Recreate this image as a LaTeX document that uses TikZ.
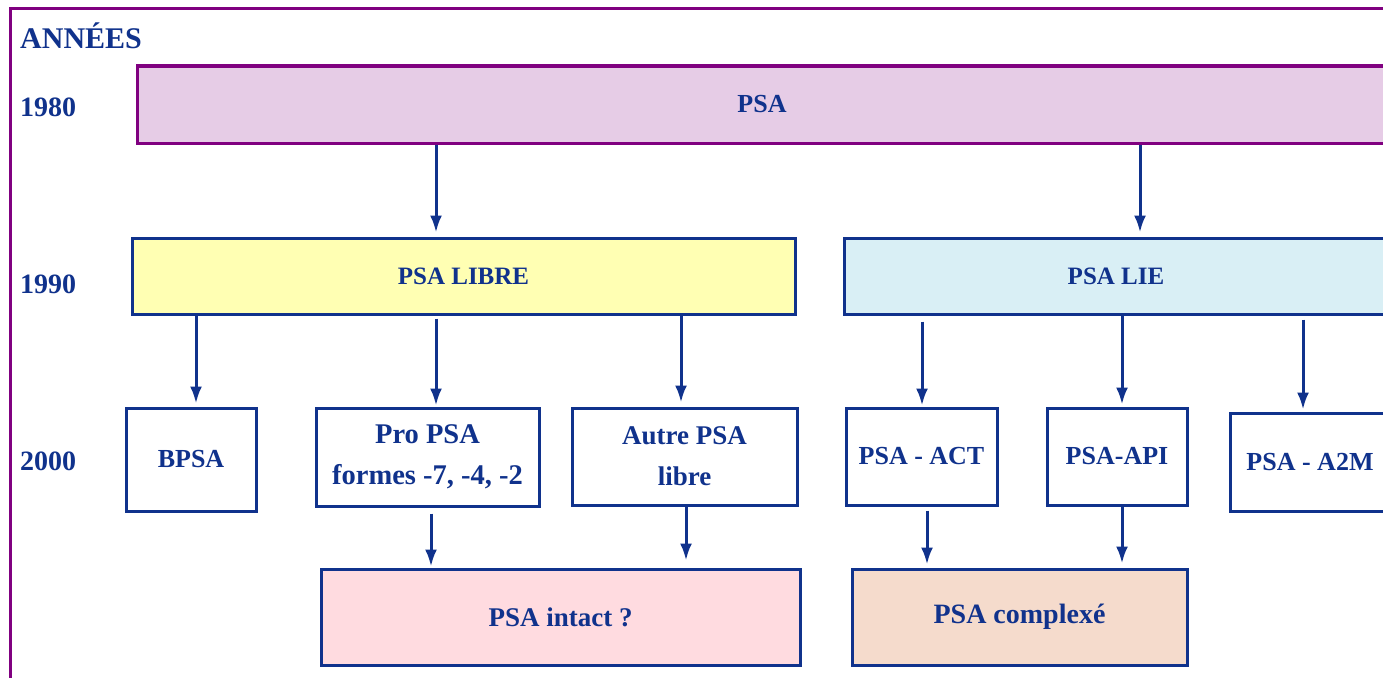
\documentclass[tikz,border=0pt]{standalone}
\usepackage{fontspec}
\setmainfont{Liberation Serif}
\usetikzlibrary{arrows.meta}
\definecolor{navy}{RGB}{16,50,140}
\definecolor{frame}{RGB}{128,0,128}
\definecolor{fpsa}{RGB}{230,204,230}
\definecolor{flibre}{RGB}{255,255,179}
\definecolor{flie}{RGB}{217,239,245}
\definecolor{fintact}{RGB}{255,219,224}
\definecolor{fcplx}{RGB}{245,219,204}
\tikzset{
  box/.style={draw=navy, line width=3pt, rectangle, inner sep=0pt, align=center,
    text=navy, font=\fontsize{26}{41}\selectfont\bfseries},
  fs/.style={font=\fontsize{#1}{41}\selectfont\bfseries},
  yearlbl/.style={anchor=west, inner sep=0pt, text=navy, font=\fontsize{28}{34}\selectfont\bfseries},
  arr/.style={draw=navy, line width=3pt, -{Latex[length=17pt,width=12pt]}}
}
\begin{document}
\begin{tikzpicture}[x=1pt,y=-1pt]
\clip (0,0) rectangle (1383,677);
\fill[white] (0,0) rectangle (1383,677);
% outer frame
\draw[frame, line width=3pt] (10,9) rectangle (1400,700);
% labels
\node[yearlbl, font=\fontsize{30}{34}\selectfont\bfseries] (annees) at (20,36) {ANNÉES};
\node[yearlbl] (y1980) at (20,107) {1980};
\node[yearlbl] (y1990) at (20,284) {1990};
\node[yearlbl] (y2000) at (20,461) {2000};
% boxes
\node[box, draw=frame, fill=fpsa, minimum width=1250pt, minimum height=77pt] (psa) at (762,104.5) {PSA};
\node[box, fs=25, fill=flibre, minimum width=663pt, minimum height=76pt] (libre) at (463.5,276) {PSA LIBRE};
\node[box, fs=25, fill=flie, minimum width=544pt, minimum height=76pt] (lie) at (1116,276) {PSA LIE};
\node[box, minimum width=130pt, minimum height=103pt] (bpsa) at (191,459.5) {BPSA};
\node[box, fs=28.5, minimum width=223pt, minimum height=98pt] (pro) at (427.5,457) {Pro PSA\\formes -7, -4, -2};
\node[box, fs=27, minimum width=225pt, minimum height=97pt] (autre) at (684.5,456.5) {Autre PSA\\libre};
\node[box, minimum width=151pt, minimum height=97pt] (act) at (921.5,456.5) {PSA - ACT};
\node[box, minimum width=140pt, minimum height=97pt] (api) at (1117,456.5) {PSA-API};
\node[box, minimum width=160pt, minimum height=98pt] (a2m) at (1310,462) {PSA - A2M};
\node[box, fs=27, fill=fintact, minimum width=479pt, minimum height=96pt] (intact) at (560.5,617) {PSA intact ?};
\node[box, fs=28, fill=fcplx, minimum width=335pt, minimum height=96pt] (cplx) at (1019.5,617) {PSA complexé};
% x positions of connectors
\coordinate (xa1) at (436,0);
\coordinate (xa2) at (1140,0);
\coordinate (xb1) at (196,0);
\coordinate (xb2) at (436,0);
\coordinate (xb3) at (681,0);
\coordinate (xc1) at (922,0);
\coordinate (xc2) at (1122,0);
\coordinate (xc3) at (1303,0);
\coordinate (xd1) at (431,0);
\coordinate (xd2) at (686,0);
\coordinate (xd3) at (927,0);
\coordinate (xd4) at (1122,0);
% connectors
\draw[arr, shorten >=4pt] (psa.south -| xa1) -- (libre.north -| xa1);
\draw[arr, shorten >=4pt] (psa.south -| xa2) -- (lie.north -| xa2);
\draw[arr, shorten >=3pt] (libre.south -| xb1) -- (bpsa.north -| xb1);
\draw[arr, shorten <=3pt, shorten >=1pt] (libre.south -| xb2) -- (pro.north -| xb2);
\draw[arr, shorten >=4pt] (libre.south -| xb3) -- (autre.north -| xb3);
\draw[arr, shorten <=6pt, shorten >=1pt] (lie.south -| xc1) -- (act.north -| xc1);
\draw[arr, shorten >=2pt] (lie.south -| xc2) -- (api.north -| xc2);
\draw[arr, shorten <=4pt, shorten >=2pt] (lie.south -| xc3) -- (a2m.north -| xc3);
\draw[arr, shorten <=6pt, shorten >=1pt] (pro.south -| xd1) -- (intact.north -| xd1);
\draw[arr, shorten >=7pt] (autre.south -| xd2) -- (intact.north -| xd2);
\draw[arr, shorten <=4pt, shorten >=3pt] (act.south -| xd3) -- (cplx.north -| xd3);
\draw[arr, shorten >=4pt] (api.south -| xd4) -- (cplx.north -| xd4);
\end{tikzpicture}
\end{document}
